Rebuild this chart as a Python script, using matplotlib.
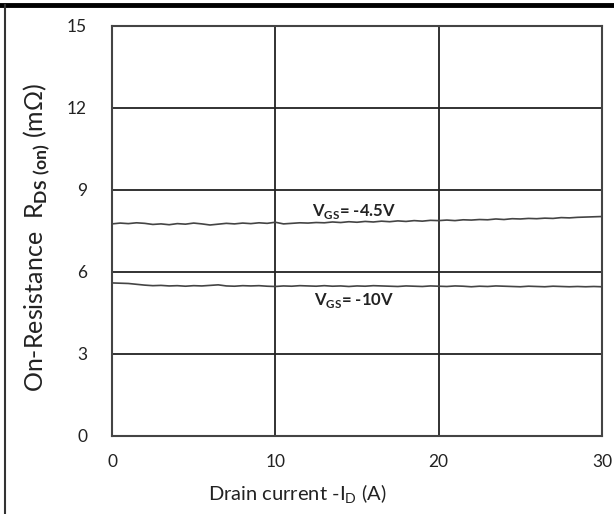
import matplotlib.pyplot as plt
import numpy as np

plt.rcParams['font.family'] = ['Lato', 'DejaVu Sans']
plt.rcParams['mathtext.fontset'] = 'custom'
plt.rcParams['mathtext.rm'] = 'Lato'
plt.rcParams['mathtext.bf'] = 'Lato:bold'

# drain current (A)
current = [0, 0.5, 1, 1.5, 2, 2.5, 3, 3.5, 4, 4.5, 5, 5.5, 6, 6.5, 7, 7.5, 8, 8.5, 9, 9.5,
           10, 10.5, 11, 11.5, 12, 12.5, 13, 13.5, 14, 14.5, 15, 15.5, 16, 16.5, 17, 17.5,
           18, 18.5, 19, 19.5, 20, 20.5, 21, 21.5, 22, 22.5, 23, 23.5, 24, 24.5, 25, 25.5,
           26, 26.5, 27, 27.5, 28, 28.5, 29, 29.5, 30]

# on-resistance (mOhm)
r_45v = [7.76, 7.79, 7.77, 7.80, 7.78, 7.74, 7.76, 7.73, 7.77, 7.75, 7.79, 7.76, 7.72,
         7.75, 7.78, 7.76, 7.79, 7.77, 7.80, 7.78, 7.82, 7.76, 7.78, 7.80, 7.79, 7.81,
         7.80, 7.83, 7.81, 7.84, 7.82, 7.85, 7.83, 7.86, 7.84, 7.87, 7.85, 7.88, 7.86,
         7.89, 7.88, 7.90, 7.88, 7.91, 7.90, 7.92, 7.91, 7.94, 7.92, 7.95, 7.94, 7.96,
         7.95, 7.97, 7.96, 7.99, 7.98, 8.00, 8.01, 8.02, 8.03]
r_10v = [5.60, 5.59, 5.58, 5.55, 5.52, 5.50, 5.51, 5.49, 5.50, 5.48, 5.50, 5.49, 5.51,
         5.53, 5.49, 5.48, 5.50, 5.49, 5.50, 5.48, 5.47, 5.49, 5.48, 5.50, 5.49, 5.48,
         5.50, 5.48, 5.49, 5.47, 5.49, 5.48, 5.50, 5.49, 5.48, 5.47, 5.49, 5.48, 5.47,
         5.49, 5.48, 5.47, 5.49, 5.48, 5.46, 5.48, 5.47, 5.49, 5.48, 5.47, 5.46, 5.48,
         5.47, 5.46, 5.48, 5.47, 5.46, 5.47, 5.46, 5.47, 5.46]

xticks = [0, 10, 20, 30]
yticks = [0, 3, 6, 9, 12, 15]

fig = plt.figure(figsize=(6.14, 5.14), dpi=100)
ax = fig.add_axes([112 / 614, 78 / 514, 490 / 614, 410 / 514])

ax.plot(current, r_45v, color='#444444', lw=1.2)
ax.plot(current, r_10v, color='#444444', lw=1.2)

ax.set_xlim(0, 30)
ax.set_ylim(0, 15)
ax.set_xticks(xticks)
ax.set_yticks(yticks)
ax.grid(True, color='#222222', lw=1.3)
for s in ax.spines.values():
    s.set_color('#444444')
    s.set_linewidth(1.5)
ax.tick_params(length=0, labelsize=12.5, labelcolor='#222222')
ax.tick_params(axis='x', pad=13)
ax.tick_params(axis='y', pad=18)

ax.text(14.8, 8.22, 'V$_{\\mathbf{GS}}$= -4.5V', ha='center', va='center',
        fontsize=12, fontweight='bold', color='#222222')
ax.text(14.8, 4.97, 'V$_{\\mathbf{GS}}$= -10V', ha='center', va='center',
        fontsize=12, fontweight='bold', color='#222222')

ax.set_xlabel('Drain current -I$_{\\mathrm{D}}$ (A)', fontsize=14.5, color='#222222')
ax.xaxis.set_label_coords((297 - 112) / 490, -(483 - 436) / 410)
ax.set_ylabel('On-Resistance  R$_{\\mathbf{DS\\ (on)}}$ (mΩ)', fontsize=18,
              color='#222222')
ax.yaxis.set_label_coords(-(112 - 52) / 490, (436 - 237) / 410)

# frame around figure (top and left edges)
fig.add_artist(plt.Line2D([0, 1], [1 - 5 / 514, 1 - 5 / 514], color='black', lw=3.5,
                          transform=fig.transFigure))
fig.add_artist(plt.Line2D([5 / 614, 5 / 614], [0, 1 - 5 / 514], color='#333333', lw=1.5,
                          transform=fig.transFigure))

fig.savefig('out.png', dpi=100)
